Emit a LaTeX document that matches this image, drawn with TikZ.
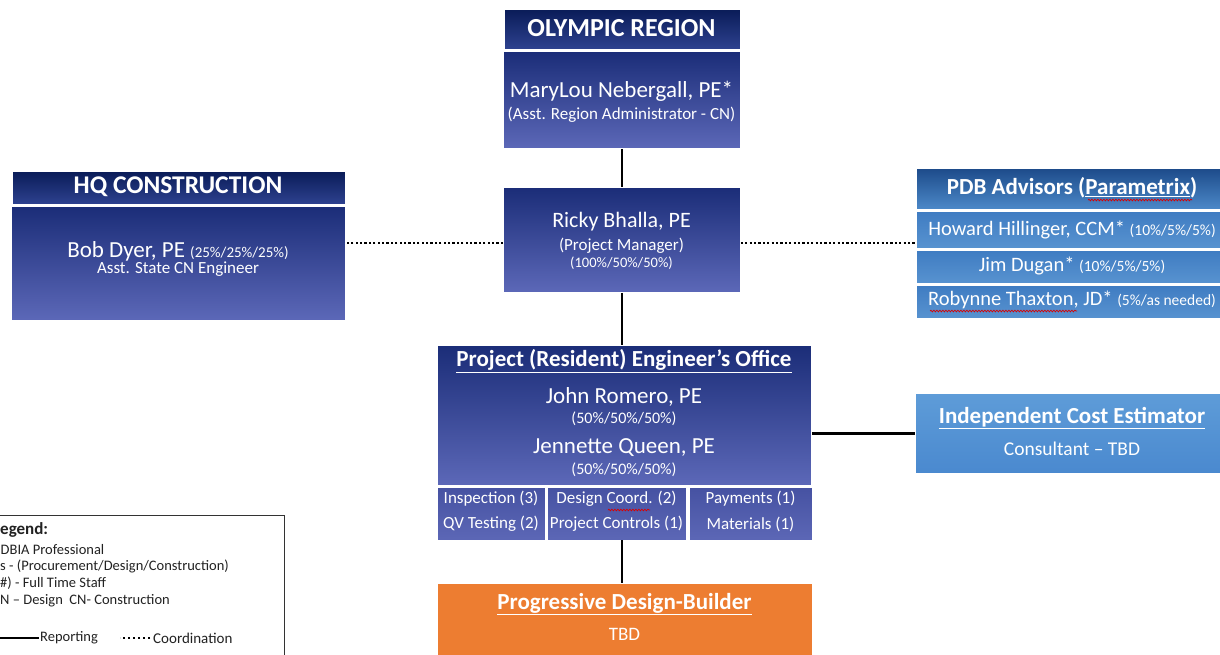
\documentclass[tikz,border=0pt]{standalone}
\usepackage{fontspec}
\setmainfont{Carlito}
\usetikzlibrary{decorations.pathmorphing}
\definecolor{hdA}{HTML}{0A1C58}
\definecolor{hdB}{HTML}{2E4290}
\definecolor{bdA}{HTML}{1B2D78}
\definecolor{bdB}{HTML}{5C68B8}
\definecolor{sbA}{HTML}{4652A2}
\definecolor{sbB}{HTML}{5C67B6}
\definecolor{phA}{HTML}{1D4B8A}
\definecolor{phB}{HTML}{4C89C9}
\definecolor{prA}{HTML}{3F7CC2}
\definecolor{prB}{HTML}{5893D0}
\definecolor{icA}{HTML}{5E9CD8}
\definecolor{icB}{HTML}{4A89CF}
\definecolor{orng}{HTML}{ED7D31}
\definecolor{lgd}{HTML}{222222}
\newcommand{\fs}[1]{\fontsize{#1}{#1}\selectfont}
\begin{document}
\begin{tikzpicture}[x=1pt,y=-1pt,
  box/.style={anchor=north west, inner sep=0pt, draw=white, line width=0.8pt},
  navyhead/.style={box, top color=hdA, bottom color=hdB},
  navybody/.style={box, top color=bdA, bottom color=bdB},
  subbox/.style={box, top color=sbA, bottom color=sbB},
  pdbhead/.style={box, top color=phA, bottom color=phB},
  pdbrow/.style={box, top color=prA, bottom color=prB},
  icebox/.style={box, top color=icA, bottom color=icB},
  orangebox/.style={box, fill=orng},
  txt/.style={text=white, inner sep=0pt, align=center},
  lgtxt/.style={text=lgd, inner sep=0pt, anchor=west},
  report/.style={line width=2.6pt, black},
  coord/.style={line width=2.2pt, black, dash pattern=on 2.2pt off 2.2pt},
  squig/.style={red!85!black, line width=0.7pt, decorate, decoration={snake, amplitude=0.8pt, segment length=3pt}}
]
\useasboundingbox (0,0) rectangle (1220,654);
\clip (0,0) rectangle (1220,654);
\fill[white] (0,0) rectangle (1220,654);

% ---------- boxes ----------
\node[navyhead, minimum width=236pt, minimum height=40pt] (olyh) at (504,9) {};
\node[navybody, minimum width=237pt, minimum height=97pt] (olyb) at (503,51) {};
\node[navybody, minimum width=237pt, minimum height=105pt] (ricky) at (503,187) {};
\node[navyhead, minimum width=333pt, minimum height=33pt] (hqh) at (12,171) {};
\node[navybody, minimum width=334pt, minimum height=114pt] (hqb) at (11,206) {};
\node[pdbhead, minimum width=306pt, minimum height=41pt] (pdbh) at (916,168) {};
\node[pdbrow, minimum width=306pt, minimum height=37pt] (pdbr1) at (916,211) {};
\node[pdbrow, minimum width=306pt, minimum height=33pt] (pdbr2) at (916,250) {};
\node[pdbrow, minimum width=306pt, minimum height=33pt] (pdbr3) at (916,285) {};
\node[navybody, minimum width=374pt, minimum height=140pt] (peo) at (437,345) {};
\node[subbox, minimum width=108pt, minimum height=53pt] (subA) at (437,487) {};
\node[subbox, minimum width=139pt, minimum height=53pt] (subB) at (547,487) {};
\node[subbox, minimum width=123pt, minimum height=53pt] (subC) at (689,487) {};
\node[icebox, minimum width=307pt, minimum height=80pt] (ice) at (915,393) {};
\node[orangebox, minimum width=375pt, minimum height=80pt] (pdb) at (437,583) {};

% ---------- connectors ----------
\draw[report] (olyb.south) -- (ricky.north);
\draw[report] (ricky.south) -- (ricky.south |- peo.north);
\coordinate (subbot) at (622,540);
\draw[report] (subbot) -- (subbot |- pdb.north);
\coordinate (rw) at (ricky.west |- 0,243);
\coordinate (re) at (ricky.east |- 0,243);
\draw[coord] (rw) -- (rw -| hqb.east);
\draw[coord] (re) -- (re -| pdbh.west);
\draw[report] (ice.west) -- (ice.west -| peo.east);

% ---------- texts ----------
\node[txt, font=\bfseries\fs{26}] (olyt) at (621.5,28) {OLYMPIC REGION};
\node[txt, font=\fs{23}] (olyn) at (621.5,91) {MaryLou Nebergall, PE*};
\node[txt, font=\fs{17}] (olyr) at (621.5,115) {(Asst. Region Administrator - CN)};

\node[txt, font=\fs{22}] (rkn) at (621.5,222) {Ricky Bhalla, PE};
\node[txt, font=\fs{17}] (rkr) at (621.5,246) {(Project Manager)};
\node[txt, font=\fs{14.5}] (rkp) at (621.5,263) {(100\%/50\%/50\%)};

\node[txt, font=\bfseries\fs{25.5}] (hqt) at (178,187) {HQ CONSTRUCTION};
\node[txt, font=\fs{23}] (hqn) at (178,251) {Bob Dyer, PE {\fs{15}(25\%/25\%/25\%)}};
\node[txt, font=\fs{17}] (hqr) at (178,269) {Asst. State CN Engineer};

\node[txt, font=\bfseries\fs{23}] (pdbt) at (1072,188) {PDB Advisors (\underline{Parametrix})};
\node[txt, font=\fs{20.5}] (pdb1) at (1072,230) {Howard Hillinger, CCM* {\fs{15.5}(10\%/5\%/5\%)}};
\node[txt, font=\fs{20.5}] (pdb2) at (1072,266) {Jim Dugan* {\fs{15.5}(10\%/5\%/5\%)}};
\node[txt, font=\fs{20.5}] (pdb3) at (1072,300) {Robynne Thaxton, JD* {\fs{15.5}(5\%/as needed)}};

\node[txt, font=\bfseries\fs{23}] (peot) at (624,361) {\underline{Project (Resident) Engineer’s Office}};
\node[txt, font=\fs{23}] (peo1) at (624,397) {John Romero, PE};
\node[txt, font=\fs{16}] (peo1p) at (624,419) {(50\%/50\%/50\%)};
\node[txt, font=\fs{23}] (peo2) at (624,448) {Jennette Queen, PE};
\node[txt, font=\fs{16}] (peo2p) at (624,470) {(50\%/50\%/50\%)};

\node[txt, font=\fs{17}] (sa1) at (491,499) {Inspection (3)};
\node[txt, font=\fs{17}] (sa2) at (491,524) {QV Testing (2)};
\node[txt, font=\fs{17}] (sb1) at (616.5,499) {Design Coord. (2)};
\node[txt, font=\fs{17}] (sb2) at (616.5,524) {Project Controls (1)};
\node[txt, font=\fs{17}] (sc1) at (750.5,499) {Payments (1)};
\node[txt, font=\fs{17}] (sc2) at (750.5,524) {Materials (1)};

\node[txt, font=\bfseries\fs{23}] (icet) at (1072,418) {\underline{Independent Cost Estimator}};
\node[txt, font=\fs{19.5}] (icec) at (1072,449) {Consultant – TBD};

\node[txt, font=\bfseries\fs{23}] (pdbot) at (624.5,604) {\underline{Progressive Design-Builder}};
\node[txt, font=\fs{19}] (pdbotb) at (624.5,634) {TBD};

% spell-check squiggles
\draw[squig] (1088,200) -- (1192,200);
\draw[squig] (930,311) -- (1077,311);
\draw[squig] (608,510) -- (650,510);

% ---------- legend ----------
\node[draw=black!80, line width=0.8pt, anchor=north west, inner sep=0pt, minimum width=344pt, minimum height=190pt] (legend) at (-60,515) {};
\node[lgtxt, font=\bfseries\fs{17}] (lg0) at (0,530) {\llap{L}egend:};
\node[lgtxt, font=\fs{14.5}] (lg1) at (0.5,549) {\llap{* }DBIA Professional};
\node[lgtxt, font=\fs{14.5}] (lg2) at (0,566) {\llap{\%}s - (Procurement/Design/Construction)};
\node[lgtxt, font=\fs{14.5}] (lg3) at (0,583) {\llap{(}\#) - Full Time Staff};
\node[lgtxt, font=\fs{14.5}] (lg4) at (0,601) {\llap{D}N – Design\ \ CN- Construction};
\node[lgtxt, font=\fs{14.5}] (lgr) at (40,638) {Reporting};
\node[lgtxt, font=\fs{15}] (lgc) at (153,638) {Coordination};
\draw[black, line width=1.6pt] (lgr.west) ++(-1,0) -- ++(-50,0);
\draw[black, line width=2pt, dash pattern=on 2pt off 3pt] (lgc.west) ++(-3,0) -- ++(-30,0);
\end{tikzpicture}
\end{document}
